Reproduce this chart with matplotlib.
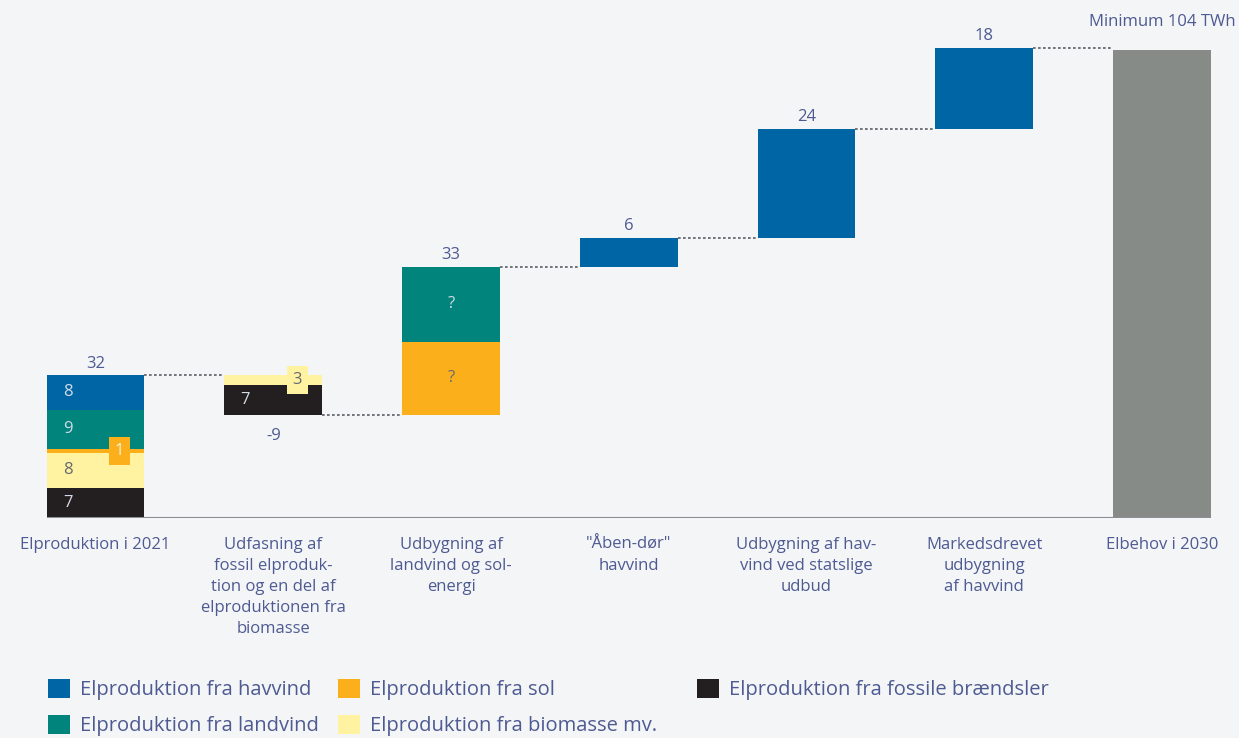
import matplotlib
matplotlib.use("Agg")
import matplotlib.pyplot as plt
from matplotlib.patches import Patch

# ---------------- data ----------------
categories = [
    'Elproduktion i 2021',
    'Udfasning af\nfossil elproduk-\ntion og en del af\nelproduktionen fra\nbiomasse',
    'Udbygning af\nlandvind og sol-\nenergi',
    '"Åben-dør"\nhavvind',
    'Udbygning af hav-\nvind ved statslige\nudbud',
    'Markedsdrevet\nudbygning\naf havvind',
    'Elbehov i 2030',
]
# segment values per source (TWh)
fossil   = [6.7, -6.6, 0.0, 0.0, 0.0, 0.0, 0.0]
biomasse = [7.8, -2.2, 0.0, 0.0, 0.0, 0.0, 0.0]
sol      = [0.9, 0.0, 16.2, 0.0, 0.0, 0.0, 0.0]
landvind = [8.7, 0.0, 16.7, 0.0, 0.0, 0.0, 0.0]
havvind  = [7.6, 0.0, 0.0, 6.4, 24.2, 18.0, 0.0]
total    = [0.0, 0.0, 0.0, 0.0, 0.0, 0.0, 104.0]

value_labels = ['32', '-9', '33', '6', '24', '18', 'Minimum 104 TWh']
# inside labels per segment (None = no label)
fossil_lbl   = ['7', '7', None, None, None, None, None]
biomasse_lbl = ['8', '3', None, None, None, None, None]
sol_lbl      = ['1', None, '?', None, None, None, None]
landvind_lbl = ['9', None, '?', None, None, None, None]
havvind_lbl  = ['8', None, None, None, None, None, None]

legend_names = ['Elproduktion fra havvind', 'Elproduktion fra landvind',
                'Elproduktion fra sol', 'Elproduktion fra biomasse mv.',
                'Elproduktion fra fossile brændsler']

# ---------------- style ----------------
BG = '#f4f5f7'
TXT = '#4e5a92'
C_HAV = '#0065a4'
C_LAND = '#00847b'
C_SOL = '#fbb01b'
C_BIO = '#fff3a1'
C_FOS = '#231f20'
C_TOT = '#878b87'
LIGHT = '#d4dbe8'
DARK = '#666a70'

FONT = 'Open Sans'
plt.rcParams['font.family'] = [FONT, 'DejaVu Sans']

W_PX, H_PX = 1239, 738
fig = plt.figure(figsize=(W_PX / 100, H_PX / 100), dpi=100, facecolor=BG)

base_px = 518          # baseline, px from top
px_per_unit = 4.5
spacing_px = 177.75
x0_px = 95.5
ax = fig.add_axes([0, (H_PX - base_px) / H_PX, 1, base_px / H_PX])
ax.set_facecolor(BG)
ax.set_xlim(-x0_px / spacing_px, (W_PX - x0_px) / spacing_px)
ax.set_ylim(0, base_px / px_per_unit)
for s in ax.spines.values():
    s.set_visible(False)
ax.set_yticks([])

width = 0.55
xs = list(range(len(categories)))
VFS = 12

order = [('fos', fossil, C_FOS, fossil_lbl),
         ('bio', biomasse, C_BIO, biomasse_lbl),
         ('sol', sol, C_SOL, sol_lbl),
         ('land', landvind, C_LAND, landvind_lbl),
         ('hav', havvind, C_HAV, havvind_lbl)]

label_color = {'fos': LIGHT, 'bio': DARK, 'sol': DARK, 'land': LIGHT, 'hav': LIGHT}

level = 0.0
ends = []
for i in xs:
    if total[i] > 0:
        ax.bar(i, total[i], width, bottom=0, color=C_TOT, linewidth=0)
        level = total[i]
        ends.append((level, level, 0))
        continue
    start = level
    cur = start
    pos = [o for o in order if o[1][i] > 0]
    neg = [o for o in reversed(order) if o[1][i] < 0]
    for key, vals, col, lbls in pos + neg:
        v = vals[i]
        ax.bar(i, v, width, bottom=cur, color=col, linewidth=0)
        mid = cur + v / 2
        lbl = lbls[i]
        if lbl is not None:
            if lbl == '?':
                ax.text(i, mid, lbl, ha='center', va='center', fontsize=VFS,
                        color=LIGHT if key == 'land' else DARK)
            elif (key == 'sol' and i == 0) or (key == 'bio' and i == 1):
                ax.text(i + 0.135, mid, lbl, ha='center', va='center', fontsize=VFS,
                        color='#f6f0e0' if key == 'sol' else DARK,
                        bbox=dict(boxstyle='square,pad=0.35', fc=col, ec='none'))
            else:
                ax.text(i - width / 2 + 0.118, mid, lbl, ha='center', va='center',
                        fontsize=VFS, color=label_color[key])
        cur += v
    level = cur
    ends.append((max(start, cur), min(start, cur), cur - start))

# baseline
ax.hlines(0, -width / 2, xs[-1] + width / 2, color='#8a8e94', lw=1.5)

# connectors
for i in xs[:-1]:
    ax.plot([i + width / 2, i + 1 - width / 2], [ends[i][0] if ends[i][2] >= 0 else ends[i][1]] * 2,
            color='#5a5d63', lw=1.2, linestyle=(0, (1.6, 1.4)))

# value labels
for i in xs:
    top, bot, d = ends[i]
    if i == xs[-1]:
        ax.annotate(value_labels[i], (i, top), xytext=(0, 20), textcoords='offset points',
                    ha='center', va='center', fontsize=VFS, color=TXT)
    elif d < 0:
        ax.annotate(value_labels[i], (i, bot), xytext=(0, -15.5), textcoords='offset points',
                    ha='center', va='center', fontsize=VFS, color=TXT)
    else:
        ax.annotate(value_labels[i], (i, top), xytext=(0, 8.5), textcoords='offset points',
                    ha='center', va='center', fontsize=VFS, color=TXT)

ax.set_xticks(xs)
ax.set_xticklabels(categories, fontsize=12, color=TXT, linespacing=1.42)
ax.tick_params(axis='x', length=0, pad=13.5)

# legends (three columns)
cols = [(48, [0, 1], [C_HAV, C_LAND]), (338, [2, 3], [C_SOL, C_BIO]), (697, [4], [C_FOS])]
LFS = 14.5
for xpx, idx, colors in cols:
    handles = [Patch(facecolor=c, edgecolor='none') for c in colors]
    fig.legend(handles, [legend_names[k] for k in idx], loc='upper left',
               bbox_to_anchor=(xpx / W_PX, 1 - 679 / H_PX), frameon=False,
               fontsize=LFS, labelcolor=TXT, handlelength=22 / (LFS * 100 / 72),
               handleheight=22 / (LFS * 100 / 72),
               handletextpad=0.5, labelspacing=0.7, borderpad=0, borderaxespad=0)

fig.savefig('out.png', dpi=100, facecolor=BG)
